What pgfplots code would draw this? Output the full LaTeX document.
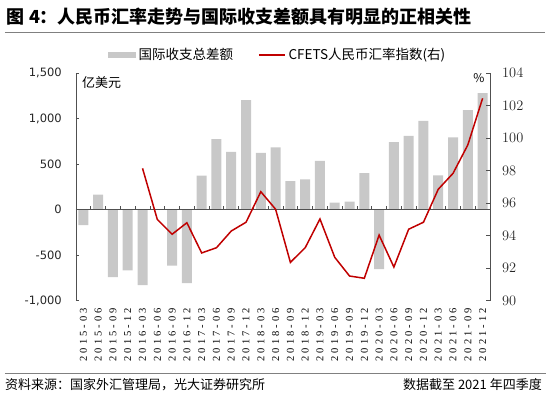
\documentclass[border=0pt]{standalone}
\usepackage{fontspec}
\usepackage{pgfplots}
\pgfplotsset{compat=1.18}
\setmainfont{Liberation Serif}
\newfontfamily\cjk{Noto Sans CJK SC}
\newfontfamily\dvs{DejaVu Sans}
\newfontfamily\xlab[LetterSpace=30]{Liberation Serif}
\definecolor{barc}{RGB}{200,200,200}
\definecolor{linec}{RGB}{192,0,0}
\definecolor{axc}{RGB}{80,80,80}
\begin{document}
\begin{tikzpicture}[x=1pt,y=1pt]
\path[use as bounding box] (-76,-97.3) rectangle (474,300.7);
% title
\node[anchor=west,inner sep=0pt] at (-69.3,284.2) {\cjk\bfseries\fontsize{18}{20}\selectfont 图 4：人民币汇率走势与国际收支差额具有明显的正相关性};
\draw[color={rgb,255:red,128;green,128;blue,128},line width=0.9pt] (-71,268.4) -- (469,268.4);
\draw[color={rgb,255:red,128;green,128;blue,128},line width=0.9pt] (-71,-72.6) -- (470,-72.6);
\node[anchor=west,inner sep=0pt] at (-71,-84.3) {\cjk\fontsize{13}{15}\selectfont 资料来源：国家外汇管理局，光大证券研究所};
\node[anchor=east,inner sep=0pt] at (466,-84.3) {\cjk\fontsize{13}{15}\selectfont 数据截至 2021 年四季度};
% bars
\begin{axis}[
  at={(0,0)}, anchor=south west,
  width=414pt, height=227.4pt, scale only axis,
  xmin=-0.5, xmax=27.5, ymin=-1000, ymax=1500,
  ybar, bar width=10pt,
  axis y line*=left, axis x line*=bottom,
  x axis line style={draw=none},
  y axis line style={color=axc, line width=0.8pt},
  xtick={0,...,27},
  xticklabels={2015-03,2015-06,2015-09,2015-12,2016-03,2016-06,2016-09,2016-12,2017-03,2017-06,2017-09,2017-12,2018-03,2018-06,2018-09,2018-12,2019-03,2019-06,2019-09,2019-12,2020-03,2020-06,2020-09,2020-12,2021-03,2021-06,2021-09,2021-12},
  xtick style={draw=none},
  xticklabel style={rotate=90, anchor=east, inner sep=0pt, font=\xlab\fontsize{10.5}{12}\selectfont},
  xticklabel shift=7pt,
  ytick={-1000,-500,0,500,1000,1500},
  yticklabels={{-1,000},{-500},{0},{500},{1,000},{1,500}},
  yticklabel style={inner sep=0pt, font=\dvs\fontsize{11.5}{13}\selectfont, text=black!85},
  yticklabel shift=14pt,
  tick align=inside, major tick length=3.5pt,
  ytick style={color=axc, line width=0.8pt},
]
\addplot[fill=barc, draw=none] coordinates {
(0,-168) (1,165) (2,-740) (3,-667) (4,-828) (5,0) (6,-615) (7,-806)
(8,374) (9,777) (10,637) (11,1205) (12,626) (13,685) (14,315) (15,333)
(16,538) (17,77) (18,88) (19,403) (20,-652) (21,744) (22,813) (23,978)
(24,377) (25,795) (26,1095) (27,1282)};
\end{axis}
% zero line with category boundary ticks
\begin{axis}[
  at={(0,0)}, anchor=south west,
  width=414pt, height=227.4pt, scale only axis,
  xmin=-0.5, xmax=27.5, ymin=-1000, ymax=1500,
  axis x line=middle, axis y line=none,
  x axis line style={-, color=axc, line width=0.9pt},
  xtick={0.5,1.5,...,26.5}, xticklabels={},
  tick align=center, major tick length=4pt,
  xtick style={color=axc, line width=0.8pt, yshift=2pt},
]
\addplot[draw=none] coordinates {(0,0)};
\end{axis}
% line on right axis
\begin{axis}[
  at={(0,0)}, anchor=south west,
  width=414pt, height=227.4pt, scale only axis,
  xmin=-0.5, xmax=27.5, ymin=90, ymax=104,
  axis y line*=right, axis x line=none,
  y axis line style={color=axc, line width=0.8pt},
  ytick={90,92,...,104},
  yticklabel style={inner sep=0pt, font=\fontsize{15}{17}\selectfont, text=black!85},
  yticklabel shift=12pt,
  tick align=inside, major tick length=3.5pt,
  ytick style={color=axc, line width=0.8pt},
  legend columns=2,
  legend style={at={(0.0773,1.0805)}, anchor=west, draw=none, fill=none, inner sep=0pt,
    font=\cjk\fontsize{13.5}{15}\selectfont,
    nodes={inner xsep=3pt, inner ysep=0pt},
    /tikz/every even column/.append style={column sep=22pt}},
  legend cell align=left,
]
\addlegendimage{legend image code/.code={\fill[barc] (0pt,-2.5pt) rectangle (27pt,2.5pt);}}
\addlegendentry{国际收支总差额}
\addplot[color=linec, line width=1.5pt, mark=none, legend image code/.code={\draw[linec, line width=1.5pt] (0pt,0pt) -- (26pt,0pt);}] coordinates {
(4,98.15) (5,95.0) (6,94.09) (7,94.8) (8,92.94) (9,93.26) (10,94.29) (11,94.83)
(12,96.71) (13,95.63) (14,92.36) (15,93.26) (16,95.03) (17,92.67) (18,91.52) (19,91.38)
(20,94.04) (21,92.07) (22,94.4) (23,94.83) (24,96.86) (25,97.84) (26,99.59) (27,102.46)};
\addlegendentry{CFETS人民币汇率指数(右)}
\end{axis}
\node[anchor=west,inner sep=0pt] at (6,217.7) {\cjk\fontsize{13}{15}\selectfont 亿美元};
\node[inner sep=0pt] at (403,222.7) {\cjk\fontsize{12}{14}\selectfont \%};
\end{tikzpicture}
\end{document}
